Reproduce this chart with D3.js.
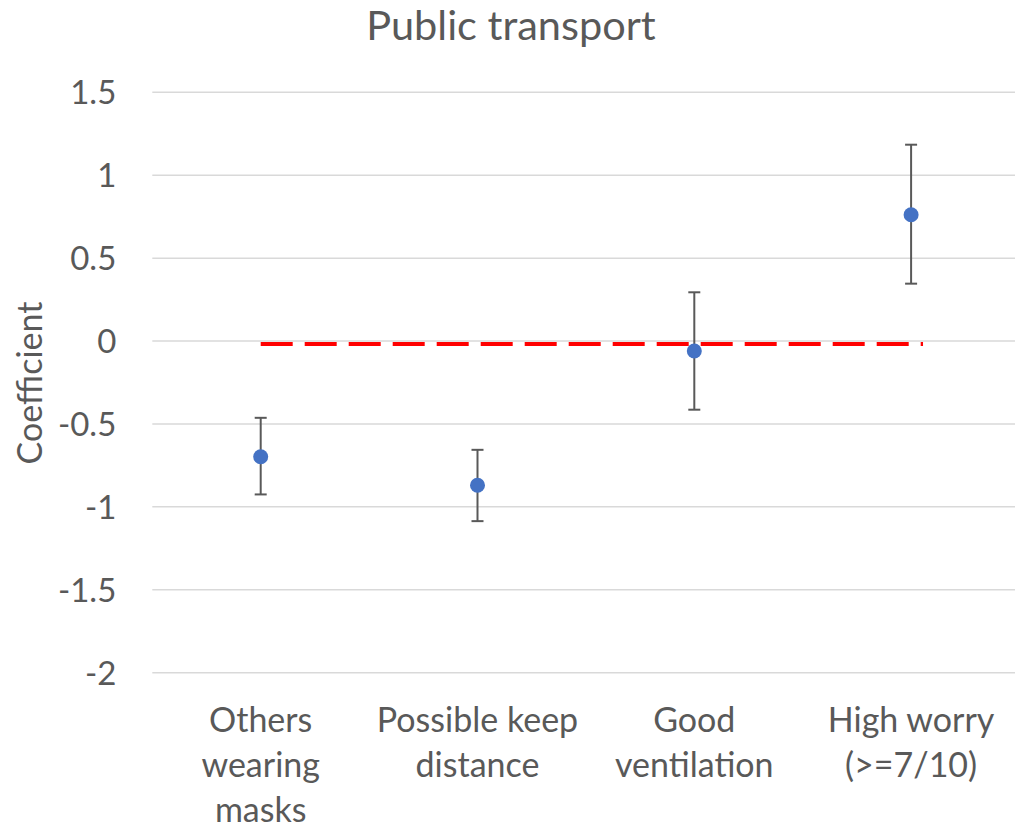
<!DOCTYPE html>
<html>
<head>
<meta charset="utf-8">
<script src="https://cdn.jsdelivr.net/npm/d3@7"></script>
<style>
  html, body { margin: 0; padding: 0; background: #fff; }
  svg { display: block; }
  text { font-family: Lato, "Open Sans", sans-serif; fill: #595959; }
</style>
</head>
<body>
<svg id="chart" width="1015" height="828"></svg>
<script>
// ---- data ----
const categories = [
  ["Others", "wearing", "masks"],
  ["Possible keep", "distance"],
  ["Good", "ventilation"],
  ["High worry", "(>=7/10)"]
];
const coefficients = [-0.698, -0.870, -0.060, 0.762];
const ciUpper = [-0.463, -0.656, 0.294, 1.184];
const ciLower = [-0.925, -1.086, -0.414, 0.346];
const yTicks = [1.5, 1, 0.5, 0, -0.5, -1, -1.5, -2];
const refLineValue = -0.018;           // red dashed reference line
const refLineRange = [0.0, 3.055];     // in category-index units
const titleText = "Public transport";
const yAxisTitle = "Coefficient";

// ---- layout ----
const svg = d3.select("#chart");
const plot = { left: 152.3, right: 1019.5, top: 92.3, bottom: 672.7 };

const x = d3.scaleLinear().domain([-0.5, categories.length - 0.5]).range([plot.left, plot.right]);
const y = d3.scaleLinear().domain([-2, 1.5]).range([plot.bottom, plot.top]);

// gridlines
svg.append("g").selectAll("line").data(yTicks).join("line")
  .attr("x1", plot.left).attr("x2", plot.right)
  .attr("y1", d => y(d)).attr("y2", d => y(d))
  .attr("stroke", "#d9d9d9").attr("stroke-width", 1.5);

// y tick labels via axis
const yAxis = svg.append("g")
  .attr("transform", `translate(${plot.left - 36},0)`)
  .call(d3.axisLeft(y).tickValues(yTicks).tickSize(0).tickPadding(0).tickFormat(d => String(d)));
yAxis.select(".domain").remove();
yAxis.selectAll("text")
  .attr("font-size", 33).attr("fill", "#595959")
  .style("font-family", "Lato, 'Open Sans', sans-serif")
  .attr("dy", "0.35em");

// red dashed reference line
svg.append("line")
  .attr("x1", x(refLineRange[0])).attr("x2", x(refLineRange[1]))
  .attr("y1", y(refLineValue)).attr("y2", y(refLineValue))
  .attr("stroke", "#ff0000").attr("stroke-width", 4)
  .attr("stroke-dasharray", "32,12");

// error bars
const eb = svg.append("g").attr("stroke", "#595959").attr("stroke-width", 2);
coefficients.forEach((v, i) => {
  const cx = x(i);
  eb.append("line").attr("x1", cx).attr("x2", cx).attr("y1", y(ciUpper[i])).attr("y2", y(ciLower[i]));
  eb.append("line").attr("x1", cx - 6).attr("x2", cx + 6).attr("y1", y(ciUpper[i])).attr("y2", y(ciUpper[i]));
  eb.append("line").attr("x1", cx - 6).attr("x2", cx + 6).attr("y1", y(ciLower[i])).attr("y2", y(ciLower[i]));
});

// points
svg.append("g").selectAll("circle").data(coefficients).join("circle")
  .attr("cx", (d, i) => x(i)).attr("cy", d => y(d)).attr("r", 7.5)
  .attr("fill", "#4472c4");

// category labels
const catG = svg.append("g");
categories.forEach((lines, i) => {
  const t = catG.append("text")
    .attr("text-anchor", "middle").attr("font-size", 34)
    .attr("x", x(i)).attr("y", 732);
  lines.forEach((ln, j) => {
    t.append("tspan").attr("x", x(i)).attr("y", 732 + j * 45).text(ln);
  });
});

// title
svg.append("text").attr("x", 511).attr("y", 40)
  .attr("text-anchor", "middle").attr("font-size", 41.5).text(titleText);

// y axis title
svg.append("text")
  .attr("transform", `translate(42,383) rotate(-90)`)
  .attr("text-anchor", "middle").attr("font-size", 34).text(yAxisTitle);
</script>
</body>
</html>
